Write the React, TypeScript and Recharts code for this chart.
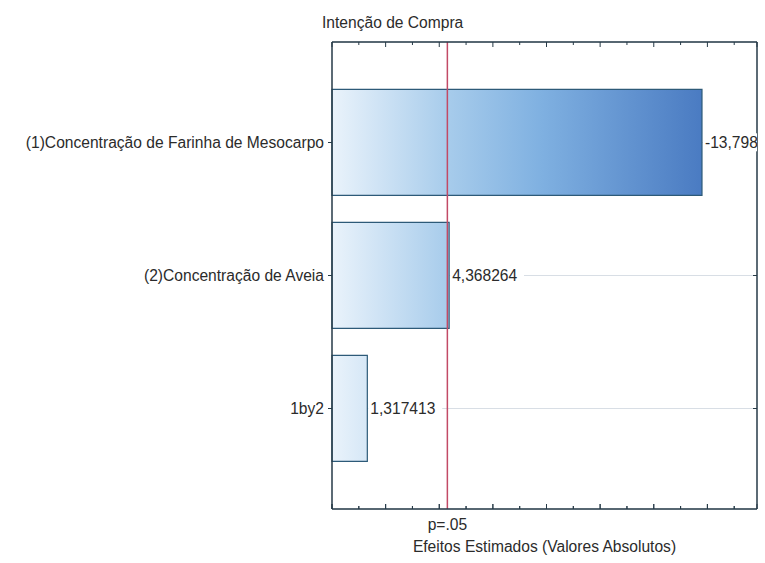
import React from 'react';
import { BarChart, Bar, XAxis, YAxis, CartesianGrid, ReferenceLine, LabelList } from 'recharts';

// Pareto chart of standardized effects
const effectNames = [
  '(1)Concentração de Farinha de Mesocarpo',
  '(2)Concentração de Aveia',
  '1by2',
];
const effectValues = [-13.79823, 4.368264, 1.317413];
const pCritical = 4.302653;
const xTicks = [0, 1, 2, 3, 4, 5, 6, 7, 8, 9, 10, 11, 12, 13, 14, 15];
const xMax = 15.85;

const W = 765;
const H = 563;
const PLOT_LEFT = 332;
const PLOT_RIGHT = 757;
const PLOT_TOP = 42;
const PLOT_BOTTOM = 509;

const FONT = '"Liberation Sans", Arial, sans-serif';
const FS = 15.6;
const TEXT = '#2b2b2b';
const FRAME = '#263a47';

const rows = effectNames.map((name, i) => ({
  name,
  effect: Math.abs(effectValues[i]),
  label: String(effectValues[i]).replace('.', ','),
}));

// bottom axis tick marks (inward)
function XTick(props: any) {
  const { x, payload } = props;
  const len = payload.value % 2 === 0 ? 5 : 3;
  return <line x1={x} x2={x} y1={PLOT_BOTTOM} y2={PLOT_BOTTOM - len} stroke={FRAME} strokeWidth={1} />;
}

// vertical "grid" used only for short inward ticks along the top and bottom of the frame
function FrameTicks(p: any) {
  const top = Math.min(p.y1, p.y2);
  const bottom = Math.max(p.y1, p.y2);
  const len = p.index % 2 === 0 ? 5 : 3;
  return (
    <g key={p.key}>
      <line x1={p.x1} x2={p.x1} y1={top} y2={top + len} stroke={FRAME} strokeWidth={1} />
      <line x1={p.x1} x2={p.x1} y1={bottom} y2={bottom - len} stroke={FRAME} strokeWidth={1} />
    </g>
  );
}

// category label on the left, plus the inward tick on the right side of the frame
function YTick(props: any) {
  const { x, y, payload } = props;
  return (
    <g>
      <text x={x} y={y} dy="0.355em" textAnchor="end" fontSize={FS} fontFamily={FONT} fill={TEXT}>
        {payload.value}
      </text>
      <line x1={PLOT_RIGHT} x2={PLOT_RIGHT - 4} y1={y} y2={y} stroke={FRAME} strokeWidth={1} />
    </g>
  );
}

function ValueLabel(props: any) {
  const { x, y, width, height, value } = props;
  const text = String(value);
  const tx = x + width + 3;
  const cy = y + height / 2;
  const w = text.length * FS * 0.56 + 4;
  return (
    <g clipPath="url(#plotClip)">
      <rect x={tx - 2} y={cy - 9} width={w} height={18} fill="#ffffff" />
      <text x={tx} y={cy} dy="0.35em" fontSize={FS} fontFamily={FONT} fill={TEXT}>
        {text}
      </text>
    </g>
  );
}

export default function App() {
  return (
    <div style={{ position: 'absolute', left: 0, top: 0, width: W, height: H, background: '#fff' }}>
      <div
        style={{
          position: 'absolute', left: 322, top: 14, fontFamily: FONT, fontSize: FS,
          color: TEXT, lineHeight: 'normal', whiteSpace: 'nowrap',
        }}
      >
        Intenção de Compra
      </div>
      <BarChart
        width={W}
        height={H}
        data={rows}
        layout="vertical"
        margin={{ top: PLOT_TOP - 10, right: W - PLOT_RIGHT, bottom: 0, left: 0 }}
        barCategoryGap="10%"
      >
        <defs>
          <linearGradient id="barGrad" gradientUnits="userSpaceOnUse" x1={PLOT_LEFT} x2={702} y1={0} y2={0}>
            <stop offset="0%" stopColor="#eaf3fb" />
            <stop offset="32%" stopColor="#a6cbeb" />
            <stop offset="56%" stopColor="#80b1e1" />
            <stop offset="100%" stopColor="#4a7bc2" />
          </linearGradient>
          <clipPath id="plotClip">
            <rect x={PLOT_LEFT} y={PLOT_TOP} width={PLOT_RIGHT - PLOT_LEFT} height={PLOT_BOTTOM - PLOT_TOP} />
          </clipPath>
        </defs>
        <CartesianGrid horizontal vertical={FrameTicks} stroke="#d8dee5" />
        <XAxis
          type="number"
          dataKey="effect"
          domain={[0, xMax]}
          ticks={xTicks}
          interval={0}
          height={H - PLOT_BOTTOM}
          tickSize={0}
          tickMargin={0}
          tickLine={false}
          tick={<XTick />}
          axisLine={{ stroke: FRAME, strokeWidth: 1.5 }}
          label={{
            value: 'Efeitos Estimados (Valores Absolutos)',
            position: 'insideBottom',
            offset: 11,
            fill: TEXT,
            fontSize: FS,
            fontFamily: FONT,
          }}
        />
        <XAxis
          xAxisId="top"
          orientation="top"
          type="number"
          domain={[0, xMax]}
          allowDataOverflow
          height={10}
          tick={false}
          tickLine={false}
          axisLine={{ stroke: FRAME, strokeWidth: 1.5 }}
        />
        <YAxis
          type="category"
          dataKey="name"
          width={PLOT_LEFT}
          padding={{ top: 34, bottom: 34 }}
          tickSize={4}
          tickMargin={4}
          tick={<YTick />}
          tickLine={{ stroke: FRAME }}
          axisLine={{ stroke: FRAME, strokeWidth: 1.5 }}
        />
        <YAxis
          yAxisId="right"
          orientation="right"
          type="category"
          dataKey="name"
          mirror
          tick={false}
          tickLine={false}
          axisLine={{ stroke: FRAME, strokeWidth: 1.5 }}
        />
        <Bar
          dataKey="effect"
          fill="url(#barGrad)"
          stroke="#2d5a78"
          strokeWidth={1.2}
          isAnimationActive={false}
        >
          <LabelList dataKey="label" content={<ValueLabel />} />
        </Bar>
        <ReferenceLine
          x={pCritical}
          stroke="#c24a66"
          strokeWidth={1.5}
          label={{ value: 'p=.05', position: 'bottom', offset: 10, fill: TEXT, fontSize: FS, fontFamily: FONT }}
        />
      </BarChart>
    </div>
  );
}
